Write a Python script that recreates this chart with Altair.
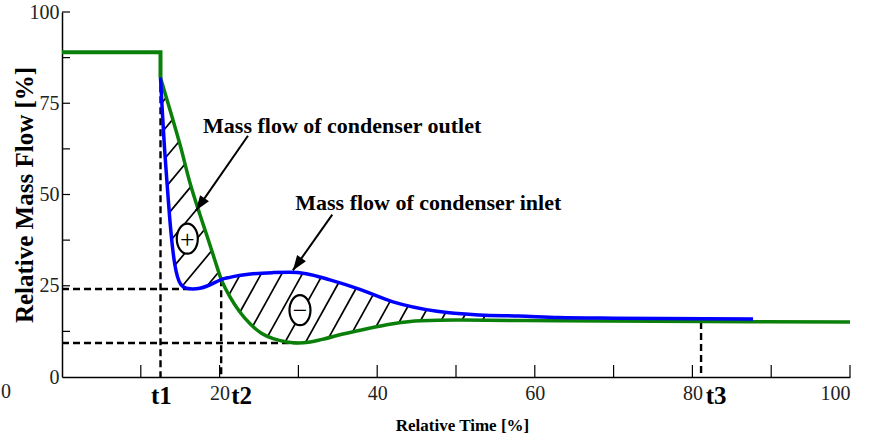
import altair as alt
import pandas as pd
import numpy as np

# ---------------- data ----------------
green_flat_x = [0, 12.5, 12.5]
green_flat_y = [89, 89, 82]

green_x = [12.5, 14, 15, 16.2, 17.5, 18.5, 19.4, 20.2, 21.3, 22.5, 23.9, 25.3, 26.8,
           28.5, 30, 31.5, 33, 35.5, 38, 42, 45.5, 50, 63, 100]
green_y = [82, 71, 63.5, 53.5, 44.5, 38, 32, 26.8, 22, 18, 14.5, 12, 10.5,
           9.6, 9.3, 9.6, 10.3, 11.7, 12.9, 14.6, 15.4, 15.6, 15.4, 15.1]

blue_x = [12.5, 12.75, 13.0, 13.3, 13.65, 14.0, 14.3, 14.65, 15.1, 15.8, 16.6, 17.5,
          18.5, 19.5, 20.2, 21.3, 23.9, 26.8, 28.9, 31, 34, 37.8, 42, 47.6, 53, 58,
          63, 70, 87.7]
blue_y = [82, 72, 63, 54, 44, 36, 31, 27.5, 25.3, 24.3, 24.1, 24.3,
          25, 26, 26.7, 27.3, 28.2, 28.6, 28.7, 28.3, 26.6, 24, 20.6, 18, 17, 16.7,
          16.3, 16.1, 15.9]

# guide (dashed) lines
dash_x0 = [0, 0, 12.5, 20.2, 81.1]
dash_y0 = [24.1, 9.3, 89, 26.8, 15.1]
dash_x1 = [16.6, 30, 12.5, 20.2, 81.1]
dash_y1 = [24.1, 9.3, 0, 0, 0]

# time markers
t_labels = ["t1", "t2", "t3"]
t_label_x = [12.6, 22.8, 83.0]

# annotations
note_text = ["Mass flow of condenser outlet", "Mass flow of condenser inlet"]
note_x = [17.9, 29.6]
note_y = [68.9, 47.8]

arrow_x0 = [23.6, 34.3]
arrow_y0 = [66.1, 44.5]
arrow_x1 = [17.0, 29.3]
arrow_y1 = [45.6, 29.2]

sign_x = [15.9, 30.2]
sign_y = [37.9, 18.3]
sign_text = ["+", "\u2212"]

x_label_values = [20, 40, 60, 80, 100]
y_label_values = [0, 25, 50, 75, 100]
x_minor_ticks = [10, 20, 30, 40, 50, 60, 70, 80, 90, 100]
y_minor_ticks = [12.5, 25, 37.5, 50, 62.5, 75, 87.5, 100]

# ---------------- layout ----------------
W, H = 788, 365
sx, sy = W / 100.0, H / 100.0
SERIF = "Liberation Serif"

# ---------------- hatching between the curves ----------------
def hatch(x0, x1, upper, lower, slope, spacing, phase=0.0):
    X = np.linspace(x0 * sx, x1 * sx, 6000)
    xs = X / sx
    U = np.interp(xs, upper[0], upper[1]) * sy
    L = np.interp(xs, lower[0], lower[1]) * sy
    dc = spacing * np.sqrt(1 + slope ** 2)
    cmin = (L - slope * X).min()
    cmax = (U - slope * X).max()
    segs = []
    c = np.floor(cmin / dc) * dc + phase
    while c < cmax:
        Yl = slope * X + c
        inside = (Yl > L) & (Yl < U)
        idx = np.flatnonzero(inside)
        if idx.size:
            breaks = np.flatnonzero(np.diff(idx) > 1)
            starts = np.r_[idx[0], idx[breaks + 1]]
            ends = np.r_[idx[breaks], idx[-1]]
            for a, b in zip(starts, ends):
                length = np.hypot(X[b] - X[a], Yl[b] - Yl[a])
                if length > 2:
                    segs.append((X[a] / sx, Yl[a] / sy, X[b] / sx, Yl[b] / sy))
        c += dc
    return segs

segs = hatch(12.5, 20.2, (green_x, green_y), (blue_x, blue_y), 1.2, 19, 6)
segs += hatch(20.2, 54.5, (blue_x, blue_y), (green_x, green_y), 1.8, 18, 4)
hatch_df = pd.DataFrame(segs, columns=["x", "y", "x2", "y2"])

# ---------------- shared encodings ----------------
xscale = alt.Scale(domain=[0, 100], nice=False, zero=False)
yscale = alt.Scale(domain=[0, 100], nice=False, zero=False)

xaxis = alt.Axis(values=x_label_values, ticks=False, tickSize=0, grid=False,
                 domainColor="black", domainWidth=1.5,
                 labelFont=SERIF, labelFontSize=20, labelColor="#222",
                 labelPadding=6, labelBaseline="top",
                 title="Relative Time [%]", titleFont=SERIF, titleFontSize=17,
                 titleFontWeight="bold", titleColor="black",
                 titleX=400, titleY=48, titleBaseline="middle", titleAlign="center")
yaxis = alt.Axis(values=y_label_values, ticks=False, tickSize=0, grid=False,
                 domainColor="black", domainWidth=1.5,
                 labelFont=SERIF, labelFontSize=20, labelColor="#222",
                 labelPadding=3,
                 title="Relative Mass Flow [%]", titleFont=SERIF, titleFontSize=25,
                 titleFontWeight="bold", titleColor="black",
                 titleX=-38, titleY=H / 2, titleAngle=-90,
                 titleBaseline="middle", titleAlign="center")

X = lambda f="x": alt.X(f"{f}:Q", scale=xscale, axis=xaxis)
Y = lambda f="y": alt.Y(f"{f}:Q", scale=yscale, axis=yaxis)

# ---------------- layers ----------------
hatch_layer = alt.Chart(hatch_df).mark_rule(color="black", strokeWidth=1.7).encode(
    x=X(), y=Y(), x2="x2:Q", y2="y2:Q")

dash_df = pd.DataFrame({"x": dash_x0, "y": dash_y0, "x2": dash_x1, "y2": dash_y1})
dash_layer = alt.Chart(dash_df).mark_rule(color="black", strokeWidth=2.4,
                                          strokeDash=[7, 4]).encode(
    x=X(), y=Y(), x2="x2:Q", y2="y2:Q")

green_flat = alt.Chart(pd.DataFrame({"x": green_flat_x, "y": green_flat_y})).mark_line(
    color="#0a800a", strokeWidth=4).encode(x=X(), y=Y())
green_line = alt.Chart(pd.DataFrame({"x": green_x, "y": green_y})).mark_line(
    color="#0a800a", strokeWidth=3.5, interpolate="monotone").encode(x=X(), y=Y())
blue_line = alt.Chart(pd.DataFrame({"x": blue_x, "y": blue_y})).mark_line(
    color="#0000ff", strokeWidth=3.5, interpolate="monotone").encode(x=X(), y=Y())

# inward ticks
xt_layer = alt.Chart(pd.DataFrame({"x": x_minor_ticks})).mark_rule(
    color="black", strokeWidth=1.2).encode(
    x=X(), y=alt.value(H), y2=alt.value(H - 12))
yt_layer = alt.Chart(pd.DataFrame({"y": y_minor_ticks})).mark_rule(
    color="black", strokeWidth=1.2).encode(
    y=Y(), x=alt.value(0), x2=alt.value(8))

# circled signs
ELLIPSE = "M0,-1 A0.7,1 0 1,1 0,1 A0.7,1 0 1,1 0,-1 Z"
sign_df = pd.DataFrame({"x": sign_x, "y": sign_y, "t": sign_text})
ell_layer = alt.Chart(sign_df).mark_point(shape=ELLIPSE, size=900, filled=True,
                                          fill="white", stroke="black",
                                          strokeWidth=2.2, opacity=1).encode(
    x=X(), y=Y())
sign_layer = alt.Chart(sign_df).mark_text(font=SERIF, fontSize=26, color="black",
                                          baseline="middle", align="center", dy=1).encode(
    x=X(), y=Y(), text="t:N")

# arrows
arr = pd.DataFrame({"x": arrow_x0, "y": arrow_y0, "x2": arrow_x1, "y2": arrow_y1})
dxp = (arr["x2"] - arr["x"]) * sx
dyp = -(arr["y2"] - arr["y"]) * sy
arr["ang"] = (np.degrees(np.arctan2(dxp, -dyp)) + 360) % 360
arrow_lines = alt.Chart(arr).mark_rule(color="black", strokeWidth=2).encode(
    x=X(), y=Y(), x2="x2:Q", y2="y2:Q")
HEAD = "M0,0 L-0.36,1 L0.36,1 Z"
arrow_heads = alt.Chart(arr).mark_point(shape=HEAD, size=900, filled=True,
                                        color="black", opacity=1).encode(
    x=X("x2"), y=Y("y2"), angle=alt.Angle("ang:Q", scale=None))

# annotation texts
note_df = pd.DataFrame({"x": note_x, "y": note_y, "t": note_text})
note_layer = alt.Chart(note_df).mark_text(font=SERIF, fontSize=22, fontWeight="bold",
                                          color="black", align="left",
                                          baseline="middle").encode(
    x=X(), y=Y(), text="t:N")

# time marker labels
t_df = pd.DataFrame({"x": t_label_x, "t": t_labels})
t_layer = alt.Chart(t_df).mark_text(font=SERIF, fontSize=25, fontWeight="bold",
                                    color="black", align="center",
                                    baseline="alphabetic").encode(
    x=X(), y=alt.value(H + 27), text="t:N")

# fragment of a neighbouring figure at the far left of the original picture
frag = alt.Chart(pd.DataFrame({"t": ["0"]})).mark_text(
    font=SERIF, fontSize=20, color="#222", align="left", baseline="middle").encode(
    x=alt.value(-61), y=alt.value(H + 15), text="t:N")

chart = alt.layer(
    hatch_layer, dash_layer, green_flat, green_line, blue_line,
    xt_layer, yt_layer, ell_layer, sign_layer, arrow_lines, arrow_heads,
    note_layer, t_layer, frag
).properties(
    width=W, height=H,
    autosize=alt.AutoSizeParams(type="none"),
    padding={"left": 62, "top": 12, "right": 22, "bottom": 63},
    background="white",
).configure_view(stroke=None)

chart.save("out.html", embed_options={"renderer": "svg", "actions": False})
